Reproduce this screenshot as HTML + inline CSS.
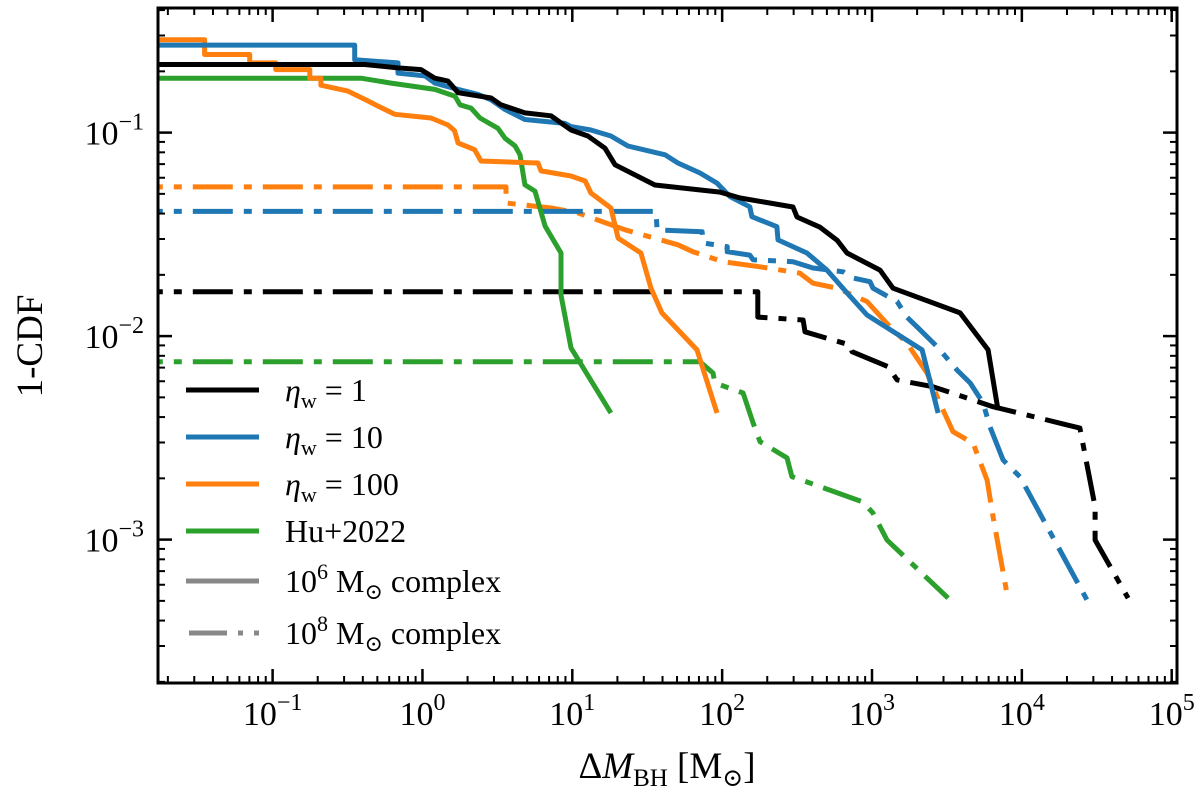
<!DOCTYPE html>
<html><head><meta charset="utf-8"><style>
html,body{margin:0;padding:0;background:#fff;}
svg text{font-family:"Liberation Serif","DejaVu Serif",serif;fill:#000;}
</style></head><body>
<svg id="chart" width="1200" height="789" viewBox="0 0 1200 789" xmlns="http://www.w3.org/2000/svg">
<defs><clipPath id="clip"><rect x="158" y="8" width="1019" height="675"/></clipPath></defs>
<g id="series" clip-path="url(#clip)"></g>
<rect x="158" y="8" width="1019" height="675" fill="none" stroke="#000" stroke-width="3"/>
<g id="ticks"></g>
<text x="667" y="778" font-size="37" text-anchor="middle">Δ<tspan font-style="italic">M</tspan><tspan font-size="25" dy="8">BH</tspan><tspan dy="-8"> [M</tspan><tspan font-size="25" dy="8">⊙</tspan><tspan dy="-8">]</tspan></text>
<text transform="translate(42,346) rotate(-90)" font-size="37" text-anchor="middle">1-CDF</text>
<g id="legend"></g>
</svg>
<script>
const xTicks = [0.1, 1, 10, 100, 1000, 10000, 100000];
const xTickExp = ["−1", "0", "1", "2", "3", "4", "5"];
const yTicks = [0.1, 0.01, 0.001];
const yTickExp = ["−1", "−2", "−3"];

const blackSolid = [[0.01,0.216],[0.412,0.216],[0.687,0.208],[0.978,0.204],[1.21,0.185],[1.48,0.179],[1.73,0.157],[2.87,0.148],[3.34,0.137],[4.83,0.125],[7.21,0.121],[9.8,0.103],[12.7,0.0962],[16.5,0.0839],[19.3,0.0695],[35.6,0.0553],[96.8,0.051],[132,0.0477],[297,0.0431],[316,0.0385],[450,0.0343],[585,0.0296],[681,0.0256],[1130,0.0211],[1380,0.0172],[3870,0.013],[5950,0.00855],[6930,0.00434]];
const blackDash = [[0.01,0.0165],[135,0.0165],[173,0.0165],[173,0.0124],[347,0.012],[357,0.0105],[713,0.00904],[735,0.00838],[1280,0.00707],[1470,0.00609],[2550,0.00564],[6420,0.0045],[20000,0.00366],[24400,0.00353],[30800,0.00145],[30800,0.000995],[51200,0.000516]];
const blueSolid = [[0.01,0.269],[0.353,0.269],[0.353,0.228],[0.687,0.22],[0.687,0.196],[1.04,0.19],[1.21,0.175],[1.73,0.163],[2.35,0.154],[2.87,0.145],[3.55,0.13],[4.83,0.116],[8.93,0.111],[9.8,0.107],[13.3,0.103],[18.1,0.0962],[23.5,0.0859],[41.6,0.0778],[50.7,0.0709],[71.1,0.0633],[92.4,0.0565],[113,0.0484],[153,0.0432],[158,0.0386],[232,0.0345],[236,0.0297],[368,0.0256],[501,0.0211],[681,0.0163],[926,0.0127],[2160,0.00855],[2760,0.00419]];
const blueDash = [[0.01,0.041],[36.2,0.041],[36.8,0.0332],[73.5,0.0326],[74.6,0.0287],[108,0.0275],[108,0.026],[153,0.025],[161,0.0237],[297,0.0232],[404,0.0216],[641,0.0207],[747,0.0193],[970,0.0185],[1016,0.0172],[1470,0.0148],[1710,0.0124],[2000,0.0111],[2720,0.00887],[3700,0.00681],[4520,0.00588],[5510,0.00469],[6140,0.00357],[7500,0.00246],[9730,0.00203],[27200,0.000505]];
const orangeSolid = [[0.01,0.286],[0.0352,0.286],[0.0352,0.242],[0.0703,0.242],[0.0703,0.22],[0.105,0.22],[0.105,0.204],[0.177,0.204],[0.177,0.185],[0.21,0.185],[0.21,0.171],[0.318,0.16],[0.434,0.143],[0.505,0.135],[0.653,0.123],[1.14,0.118],[1.48,0.109],[1.64,0.102],[1.73,0.0889],[2.23,0.0824],[2.46,0.0725],[5.9,0.0709],[6.18,0.0648],[9.8,0.0612],[12.2,0.0578],[13.3,0.0505],[18.1,0.0426],[20.2,0.0303],[28.7,0.0256],[33.5,0.0172],[39.6,0.013],[67.9,0.00855],[92.4,0.00419]];
const orangeDash = [[0.01,0.0541],[3.61,0.0541],[3.61,0.0451],[7.21,0.0426],[10.9,0.0403],[22.5,0.0333],[50.7,0.0281],[63.8,0.026],[101,0.0232],[179,0.0219],[330,0.0204],[404,0.0182],[585,0.0172],[926,0.0148],[1320,0.0111],[1710,0.00925],[2330,0.00659],[2840,0.00469],[3470,0.00339],[4720,0.00298],[5860,0.00196],[6420,0.0013],[8090,0.000505]];
const greenSolid = [[0.01,0.185],[0.389,0.185],[0.617,0.175],[1.21,0.163],[1.65,0.151],[1.78,0.137],[2.11,0.132],[2.42,0.118],[3.19,0.105],[3.55,0.094],[4.15,0.0859],[4.48,0.0778],[4.83,0.0554],[5.64,0.0515],[6.58,0.0347],[8.41,0.0256],[8.41,0.0159],[9.8,0.00875],[18.1,0.00419]];
const greenDash = [[0.01,0.00748],[71.1,0.00748],[86.9,0.00659],[89.5,0.00588],[138,0.00525],[161,0.00374],[179,0.00303],[271,0.00252],[292,0.00204],[871,0.00153],[1016,0.00135],[1260,0.000995],[3220,0.000516]];

const legendLabels = ["η_w = 1", "η_w = 10", "η_w = 100", "Hu+2022", "10^6 M⊙ complex", "10^8 M⊙ complex"];

const X0=422.45, XD=149.85, Y0=132.6, YD=203.5;
function sx(v){return X0 + XD*Math.log10(v);}
function sy(v){return Y0 - YD*(Math.log10(v)+1);}
const NS="http://www.w3.org/2000/svg";
const DASH="40 11 8 11";
const seriesG=document.getElementById('series');
function drawLine(data,color,dashed,name){
  const p=document.createElementNS(NS,'polyline');
  p.setAttribute('points',data.map(d=>sx(d[0]).toFixed(1)+','+sy(d[1]).toFixed(1)).join(' '));
  p.setAttribute('fill','none');p.setAttribute('stroke',color);p.setAttribute('stroke-width','5');
  p.setAttribute('stroke-linejoin','round');
  if(dashed)p.setAttribute('stroke-dasharray',DASH);
  
  
  seriesG.appendChild(p);
}
drawLine(greenDash,'#2ca02c',true,'hu2022-1e8-line');
drawLine(orangeDash,'#ff7f0e',true,'eta100-1e8-line');
drawLine(blueDash,'#1f77b4',true,'eta10-1e8-line');
drawLine(blackDash,'#000',true,'eta1-1e8-line');
drawLine(greenSolid,'#2ca02c',false,'hu2022-1e6-line');
drawLine(orangeSolid,'#ff7f0e',false,'eta100-1e6-line');
drawLine(blueSolid,'#1f77b4',false,'eta10-1e6-line');
drawLine(blackSolid,'#000',false,'eta1-1e6-line');

const tg=document.getElementById('ticks');
function ln(x1,y1,x2,y2,w){const l=document.createElementNS(NS,'line');l.setAttribute('x1',x1);l.setAttribute('y1',y1);l.setAttribute('x2',x2);l.setAttribute('y2',y2);l.setAttribute('stroke','#000');l.setAttribute('stroke-width',w);


tg.appendChild(l);}
for(let e=-2;e<=5;e++){for(let m=1;m<10;m++){const v=m*Math.pow(10,e);const x=sx(v);if(x<159||x>1176)continue;const L=m===1?14:7;const w=m===1?2.5:2;ln(x,683,x,683-L,w);ln(x,8,x,8+L,w);}}
for(let e=-4;e<=0;e++){for(let m=1;m<10;m++){const v=m*Math.pow(10,e);const y=sy(v);if(y<9||y>682)continue;const L=m===1?14:7;const w=m===1?2.5:2;ln(158,y,158+L,y,w);ln(1177,y,1177-L,y,w);}}
xTicks.forEach((v,i)=>{const t=document.createElementNS(NS,'text');t.setAttribute('x',sx(v));t.setAttribute('y',725);t.setAttribute('font-size','34');t.setAttribute('text-anchor','middle');
t.innerHTML='10<tspan font-size="24" dy="-15">'+xTickExp[i]+'</tspan>';


tg.appendChild(t);});
yTicks.forEach((v,i)=>{const t=document.createElementNS(NS,'text');t.setAttribute('x',144);t.setAttribute('y',sy(v)+12);t.setAttribute('font-size','34');t.setAttribute('text-anchor','end');
t.innerHTML='10<tspan font-size="24" dy="-15">'+yTickExp[i]+'</tspan>';


tg.appendChild(t);});

const lg=document.getElementById('legend');
const legColors=['#000','#1f77b4','#ff7f0e','#2ca02c','#888','#888'];
const legY=[390,437,484,531,581,633];
legendLabels.forEach((lab,i)=>{
  const g=document.createElementNS(NS,'g');
  
  
  const l=document.createElementNS(NS,'line');
  l.setAttribute('x1',186);l.setAttribute('x2',259);l.setAttribute('y1',legY[i]);l.setAttribute('y2',legY[i]);
  l.setAttribute('stroke',legColors[i]);l.setAttribute('stroke-width','5');
  if(i===5){l.setAttribute('x1',189);l.setAttribute('stroke-dasharray','38 11 5 11 5 20');}
  g.appendChild(l);
  const t=document.createElementNS(NS,'text');t.setAttribute('x',285);t.setAttribute('y',legY[i]+11);t.setAttribute('font-size','32');
  let html;
  if(lab.startsWith('η_w')){html='<tspan font-style="italic">η</tspan><tspan font-size="22" dy="7">w</tspan><tspan dy="-7"> '+lab.slice(4)+'</tspan>';}
  else if(lab.startsWith('10^')){const p=lab.split(' ');html='10<tspan font-size="22" dy="-13">'+p[0].slice(3)+'</tspan><tspan dy="13"> M</tspan><tspan font-size="22" dy="7">⊙</tspan><tspan dy="-7"> complex</tspan>';}
  else html=lab;
  t.innerHTML=html;g.appendChild(t);lg.appendChild(g);
});
</script>
</body></html>
